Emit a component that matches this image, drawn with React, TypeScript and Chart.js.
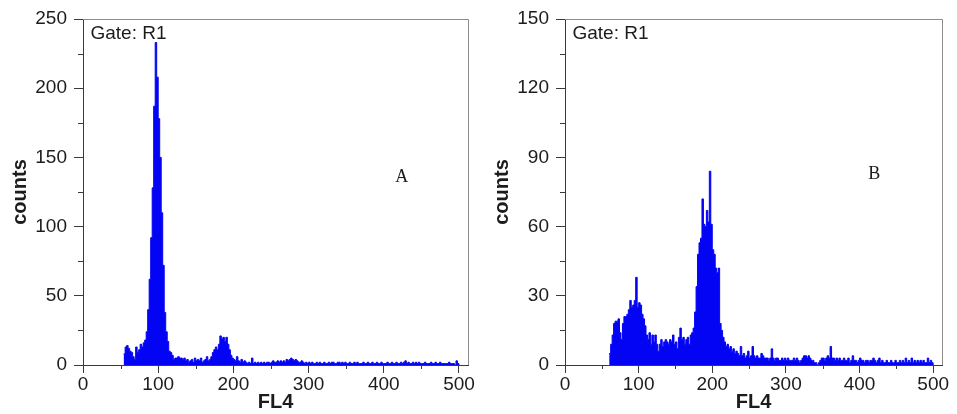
import React, { useEffect, useRef } from "react";
import { Chart, registerables } from "chart.js";

Chart.register(...registerables);

// ---------- data ----------
// histogram bins are 2 FL4 channels wide
const binWidth = 2;

// Panel A: counts per bin, first bin starts at channel 54
const startA = 54;
const countsA = [
  8, 13, 14, 12, 10, 9, 6, 4, 13, 9,
  11, 15, 13, 16, 18, 24, 40, 62, 92, 128,
  187, 233, 208, 178, 150, 110, 72, 38, 24, 17,
  10, 9, 7, 4, 5, 5, 6, 5, 5, 4,
  5, 3, 4, 2, 3, 4, 2, 5, 3, 4,
  3, 5, 2, 3, 4, 6, 3, 4, 6, 9,
  11, 13, 11, 15, 21, 19, 20, 17, 20, 15,
  11, 7, 5, 4, 3, 6, 3, 2, 4, 2,
  3, 2, 1, 2, 1, 5, 1, 2, 1, 2,
  1, 2, 1, 2, 1, 2, 2, 1, 2, 3,
  2, 2, 3, 2, 3, 2, 3, 2, 4, 3,
  4, 5, 4, 3, 4, 3, 2, 2, 3, 2,
  1, 2, 1,
  2, 1, 2, 1, 1, 2, 1, 2, 1, 1, 2, 1, 1, 2, 1, 2, 2, 1, 1, 2,
  2, 1, 2, 1, 2, 1, 1, 2, 1, 1, 2, 1, 2, 1, 1, 1, 2, 1, 1, 2,
  1, 1, 2, 1, 1, 2, 1, 1, 2, 1, 1, 1, 2, 1, 1, 2, 1, 1, 2, 1,
  1, 2, 1, 2, 3, 1, 2, 1, 1, 2, 1, 2, 1, 2, 1, 1, 1, 2, 1, 1,
  1, 2, 1, 1, 2, 1, 1, 2, 1, 1, 1, 1, 1, 2, 1, 1, 1, 0, 3, 1,
];

// Panel B: counts per bin, first bin starts at channel 60
const startB = 60;
const countsB = [
  5, 9, 13, 18, 19, 19, 20, 14, 11, 18,
  21, 21, 22, 24, 28, 25, 26, 28, 38, 25,
  27, 26, 22, 20, 17, 13, 11, 14, 9, 13,
  10, 13, 9, 6, 9, 11, 8, 10, 11, 10,
  9, 11, 10, 13, 9, 10, 7, 12, 16, 11,
  12, 9, 11, 12, 9, 13, 14, 16, 23, 34,
  48, 53, 55, 72, 61, 60, 67, 62, 84, 61,
  50, 48, 42, 40, 42, 18, 15, 12, 10, 8,
  9, 7, 8, 6, 7, 5, 6, 5, 4, 8,
  4, 5, 3, 4, 6, 3, 4, 8, 4, 3,
  4, 3, 3, 5, 4, 3, 3, 3, 2, 3,
  7, 3, 2, 3, 3, 2, 2, 3, 2, 3,
  2, 3, 2, 2, 2, 3, 2, 3, 2, 1,
  2, 3, 4, 4, 3, 4, 3, 2, 2, 1,
  1, 0, 1, 2, 3, 3, 2, 3, 4, 3,
  8, 3, 3, 2, 3, 2, 3, 2, 2, 3,
  2, 2, 3, 1, 2, 4, 2, 2, 1, 2,
  3, 2, 2, 1, 2, 2, 1, 2, 2, 3,
  2, 1, 2, 3, 1, 2, 1, 1, 2, 1,
  1, 2, 1, 1, 2, 1, 1, 2, 1, 2,
  1, 3, 1, 2, 1, 3, 1, 2, 1, 2,
  1, 2, 1, 2, 1, 1, 3, 1, 2, 1,
];

const xMax = 512;
const xStep = 100;
const xMinorTicks = [50, 150, 250, 350, 450];

const yMaxA = 250;
const yStepA = 50;
const yMinorA = [25, 75, 125, 175, 225];

const yMaxB = 150;
const yStepB = 30;
const yMinorB = [15, 45, 75, 105, 135];

const xTitle = "FL4";
const yTitle = "counts";
const gateLabel = "Gate: R1";
const letterA = "A";
const letterB = "B";

// ---------- style ----------
const BLUE = "rgb(4,4,245)";
const AXIS = "#3a3a3a";
const FRAME = "#8c8c8c";
const TEXT = "#1c1c1c";
const SANS = '"Liberation Sans", Arial, Helvetica, sans-serif';
const SERIF = '"Liberation Serif", "Times New Roman", serif';

type Spec = {
  counts: number[];
  start: number;
  yMax: number;
  yStep: number;
  yMinor: number[];
  letter: string;
  letterX: number;
  letterY: number;
  canvasWidth: number;
  yAxisWidth: number;
  padRight: number;
  titlePad: number;
};

function makeDecor(spec: Spec) {
  return {
    id: "panelDecor",
    afterDraw(chart: any) {
      const { ctx, chartArea, scales } = chart;
      const { left, right, top, bottom } = chartArea;
      const x = scales.x;
      const y = scales.y;
      ctx.save();
      // frame (top + right)
      ctx.strokeStyle = FRAME;
      ctx.lineWidth = 1;
      ctx.beginPath();
      ctx.moveTo(left, Math.round(top) + 0.5);
      ctx.lineTo(Math.round(right) + 0.5, Math.round(top) + 0.5);
      ctx.lineTo(Math.round(right) + 0.5, bottom);
      ctx.stroke();
      // minor ticks
      ctx.strokeStyle = AXIS;
      ctx.beginPath();
      for (const v of xMinorTicks) {
        const px = Math.round(x.getPixelForValue(v)) + 0.5;
        ctx.moveTo(px, bottom);
        ctx.lineTo(px, bottom + 4);
      }
      for (const v of spec.yMinor) {
        const py = Math.round(y.getPixelForValue(v)) + 0.5;
        ctx.moveTo(left - 5, py);
        ctx.lineTo(left, py);
      }
      ctx.stroke();
      // gate label
      ctx.fillStyle = TEXT;
      ctx.font = `19px ${SANS}`;
      ctx.textAlign = "left";
      ctx.textBaseline = "alphabetic";
      ctx.fillText(gateLabel, left + 7.5, top + 20);
      // panel letter
      ctx.font = `18px ${SERIF}`;
      ctx.textAlign = "center";
      ctx.textBaseline = "middle";
      ctx.fillText(spec.letter, x.getPixelForValue(spec.letterX), y.getPixelForValue(spec.letterY));
      ctx.restore();
    },
  };
}

function Panel({ spec, left }: { spec: Spec; left: number }) {
  const ref = useRef<HTMLCanvasElement>(null);
  useEffect(() => {
    const points = spec.counts.map((v, i) => ({ x: spec.start + i * binWidth, y: v }));
    points.push({ x: spec.start + spec.counts.length * binWidth, y: 0 });
    const tickFont = { family: SANS, size: 19 };
    const titleFont = { family: SANS, size: 20, weight: "bold" as const };
    const chart = new Chart(ref.current!, {
      type: "line",
      data: {
        datasets: [
          {
            data: points,
            stepped: "before",
            fill: "origin",
            backgroundColor: BLUE,
            borderColor: BLUE,
            borderWidth: 1,
            pointRadius: 0,
            tension: 0,
          },
        ],
      },
      options: {
        animation: false,
        responsive: false,
        events: [],
        layout: { padding: { left: 0, right: spec.padRight, top: 19, bottom: 0 } },
        plugins: { legend: { display: false }, tooltip: { enabled: false } },
        scales: {
          x: {
            type: "linear",
            min: 0,
            max: xMax,
            afterFit: (s: any) => {
              s.height = 49;
              s.paddingLeft = 0;
              s.paddingRight = 0;
            },
            ticks: {
              stepSize: xStep,
              includeBounds: false,
              autoSkip: false,
              maxRotation: 0,
              padding: 0,
              color: TEXT,
              font: tickFont,
            },
            grid: { drawOnChartArea: false, drawTicks: true, tickLength: 8, tickColor: AXIS, color: AXIS },
            border: { display: true, color: AXIS, width: 1 },
            title: { display: true, text: xTitle, color: TEXT, font: titleFont, padding: { top: 0, bottom: 0 } },
          },
          y: {
            type: "linear",
            min: 0,
            max: spec.yMax,
            afterFit: (s: any) => {
              s.width = spec.yAxisWidth;
              s.paddingTop = 0;
              s.paddingBottom = 0;
            },
            ticks: { stepSize: spec.yStep, padding: 7, color: TEXT, font: tickFont },
            grid: { drawOnChartArea: false, drawTicks: true, tickLength: 9, tickColor: AXIS, color: AXIS },
            border: { display: true, color: AXIS, width: 1 },
            title: { display: true, text: yTitle, color: TEXT, font: titleFont, padding: { top: spec.titlePad, bottom: 0 } },
          },
        },
      },
      plugins: [makeDecor(spec)],
    } as any);
    return () => chart.destroy();
  }, [spec]);
  return (
    <canvas
      ref={ref}
      width={spec.canvasWidth}
      height={414}
      style={{ position: "absolute", left, top: 0, width: spec.canvasWidth, height: 414 }}
    />
  );
}

const specA: Spec = {
  counts: countsA,
  start: startA,
  yMax: yMaxA,
  yStep: yStepA,
  yMinor: yMinorA,
  letter: letterA,
  letterX: 424,
  letterY: 136,
  canvasWidth: 478,
  yAxisWidth: 83,
  padRight: 10,
  titlePad: 8,
};

const specB: Spec = {
  counts: countsB,
  start: startB,
  yMax: yMaxB,
  yStep: yStepB,
  yMinor: yMinorB,
  letter: letterB,
  letterX: 420,
  letterY: 82.5,
  canvasWidth: 479,
  yAxisWidth: 87,
  padRight: 15,
  titlePad: 12,
};

export default function App() {
  return (
    <div style={{ position: "absolute", left: 0, top: 0, width: 957, height: 414, background: "#fff", overflow: "hidden" }}>
      <Panel spec={specA} left={0} />
      <Panel spec={specB} left={478} />
    </div>
  );
}
